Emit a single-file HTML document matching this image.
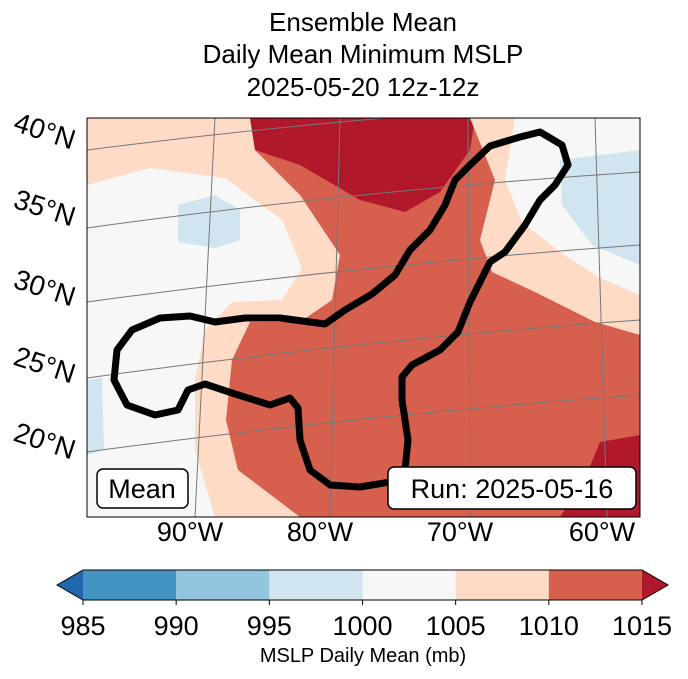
<!DOCTYPE html>
<html><head><meta charset="utf-8"><style>
body{margin:0;background:#fff;}
svg text{font-family:"Liberation Sans",sans-serif;}
</style></head><body>
<svg width="688" height="674" viewBox="0 0 688 674">
<g font-size="26" text-anchor="middle" fill="#000">
<text x="363" y="31">Ensemble Mean</text>
<text x="363" y="63">Daily Mean Minimum MSLP</text>
<text x="363" y="96">2025-05-20 12z-12z</text>
</g>
<defs><clipPath id="mc"><rect x="87" y="118" width="553" height="399"/></clipPath></defs>
<g clip-path="url(#mc)">
<rect x="87" y="118" width="553" height="399" fill="#d6604d"/>
<polygon fill="#fddbc7" points="87,118 250,118 255,150 300,195 340,255 332,300 300,322 250,322 232,360 226,420 238,470 300,517 87,517"/>
<polygon fill="#f7f7f7" points="87,185 150,168 225,178 282,220 302,268 282,300 232,302 205,330 195,380 195,450 215,517 87,517"/>
<polygon fill="#d1e5f0" points="178,205 215,195 240,210 240,240 215,248 178,242"/>
<polygon fill="#d1e5f0" points="87,380 102,378 104,450 87,455"/>
<polygon fill="#b2182b" points="250,118 475,118 470,150 440,192 405,212 360,200 300,165 255,150"/>
<polygon fill="#fddbc7" points="470,118 640,118 640,335 595,322 535,292 492,272 480,240 495,180"/>
<polygon fill="#f7f7f7" points="515,118 640,118 640,295 600,278 560,252 522,222 505,180"/>
<polygon fill="#d1e5f0" points="560,160 640,150 640,265 592,245 562,205"/>
<polygon fill="#b2182b" points="600,442 640,435 640,517 560,517 585,478"/>
<g stroke="#777" stroke-width="1" fill="none">
<path d="M87,150 Q360,115 640,100"/>
<path d="M87,228 Q360,190 640,172"/>
<path d="M87,302 Q360,265 640,245"/>
<path d="M87,378 Q360,340 640,320"/>
<path d="M87,452 Q360,415 640,395"/>
<line x1="215" y1="118" x2="195" y2="517"/>
<line x1="340" y1="118" x2="330" y2="517"/>
<line x1="468" y1="118" x2="470" y2="517"/>
<line x1="595" y1="118" x2="607" y2="517"/>
</g>
<path fill="none" stroke="#000" stroke-width="7" stroke-linejoin="round"
d="M520,137 L540,132 L562,145 L568,165 L555,185 L540,200 L525,225 L505,252 L490,262 L480,282 L470,302 L458,332 L440,350 L412,365 L402,377 L402,400 L408,440 L405,470 L390,482 L360,487 L330,485 L310,470 L300,440 L298,408 L290,398 L270,405 L232,393 L205,384 L188,390 L178,410 L155,415 L127,405 L114,380 L117,350 L132,330 L160,318 L190,316 L215,322 L245,318 L280,318 L325,324 L345,310 L372,294 L395,275 L410,250 L430,230 L445,205 L455,180 L470,165 L490,146 Z"/>
</g>
<rect x="87" y="118" width="553" height="399" fill="none" stroke="#000" stroke-width="1"/>
<g font-size="28" fill="#000">
<text x="14" y="142" transform="rotate(18 50 130)">40°N</text>
<text x="14" y="219" transform="rotate(18 50 207)">35°N</text>
<text x="14" y="299" transform="rotate(18 50 287)">30°N</text>
<text x="14" y="376" transform="rotate(18 50 364)">25°N</text>
<text x="14" y="452" transform="rotate(18 50 440)">20°N</text>
</g>
<g font-size="27" text-anchor="middle" fill="#000">
<text x="190" y="541">90°W</text><text x="320" y="541">80°W</text><text x="460" y="541">70°W</text><text x="602" y="541">60°W</text>
</g>
<g>
<rect x="97" y="469" width="91" height="39" rx="6" fill="#fff" stroke="#000" stroke-width="1.5"/>
<text x="142" y="498" font-size="27" text-anchor="middle">Mean</text>
</g>
<g>
<rect x="388" y="467" width="248" height="42" rx="6" fill="#fff" stroke="#000" stroke-width="1.5"/>
<text x="512" y="498" font-size="27" text-anchor="middle">Run: 2025-05-16</text>
</g>
<g id="cbar"></g>
<text x="363" y="662" font-size="20" text-anchor="middle">MSLP Daily Mean (mb)</text>
</svg>
<script>
const levels=[985,990,995,1000,1005,1010,1015];
const colors=['#4393c3','#92c5de','#d1e5f0','#f7f7f7','#fddbc7','#d6604d'];
const extColors=['#2166ac','#b2182b'];
const g=document.getElementById('cbar');const ns='http://www.w3.org/2000/svg';
const x0=83,x1=642,y0=570,h=30;
const sx=v=>x0+(v-levels[0])/(levels[levels.length-1]-levels[0])*(x1-x0);
function mk(t,a){const e=document.createElementNS(ns,t);for(const k in a)e.setAttribute(k,a[k]);g.appendChild(e);return e;}
for(let i=0;i<colors.length;i++){
const r=mk('rect',{x:sx(levels[i]),y:y0,width:sx(levels[i+1])-sx(levels[i]),height:h,fill:colors[i]});


}
const a1=mk('polygon',{points:`${x0},${y0} 57,${y0+h/2} ${x0},${y0+h}`,fill:extColors[0]});


const a2=mk('polygon',{points:`${x1},${y0} 668,${y0+h/2} ${x1},${y0+h}`,fill:extColors[1]});


mk('polygon',{points:`57,${y0+h/2} ${x0},${y0} ${x1},${y0} 668,${y0+h/2} ${x1},${y0+h} ${x0},${y0+h}`,fill:'none',stroke:'#000','stroke-width':1});
levels.forEach(v=>{
mk('line',{x1:sx(v),x2:sx(v),y1:y0+h,y2:y0+h+5,stroke:'#000'});
const t=mk('text',{x:sx(v),y:635,'font-size':27,'text-anchor':'middle'});t.textContent=v;


});
</script>
</body></html>
